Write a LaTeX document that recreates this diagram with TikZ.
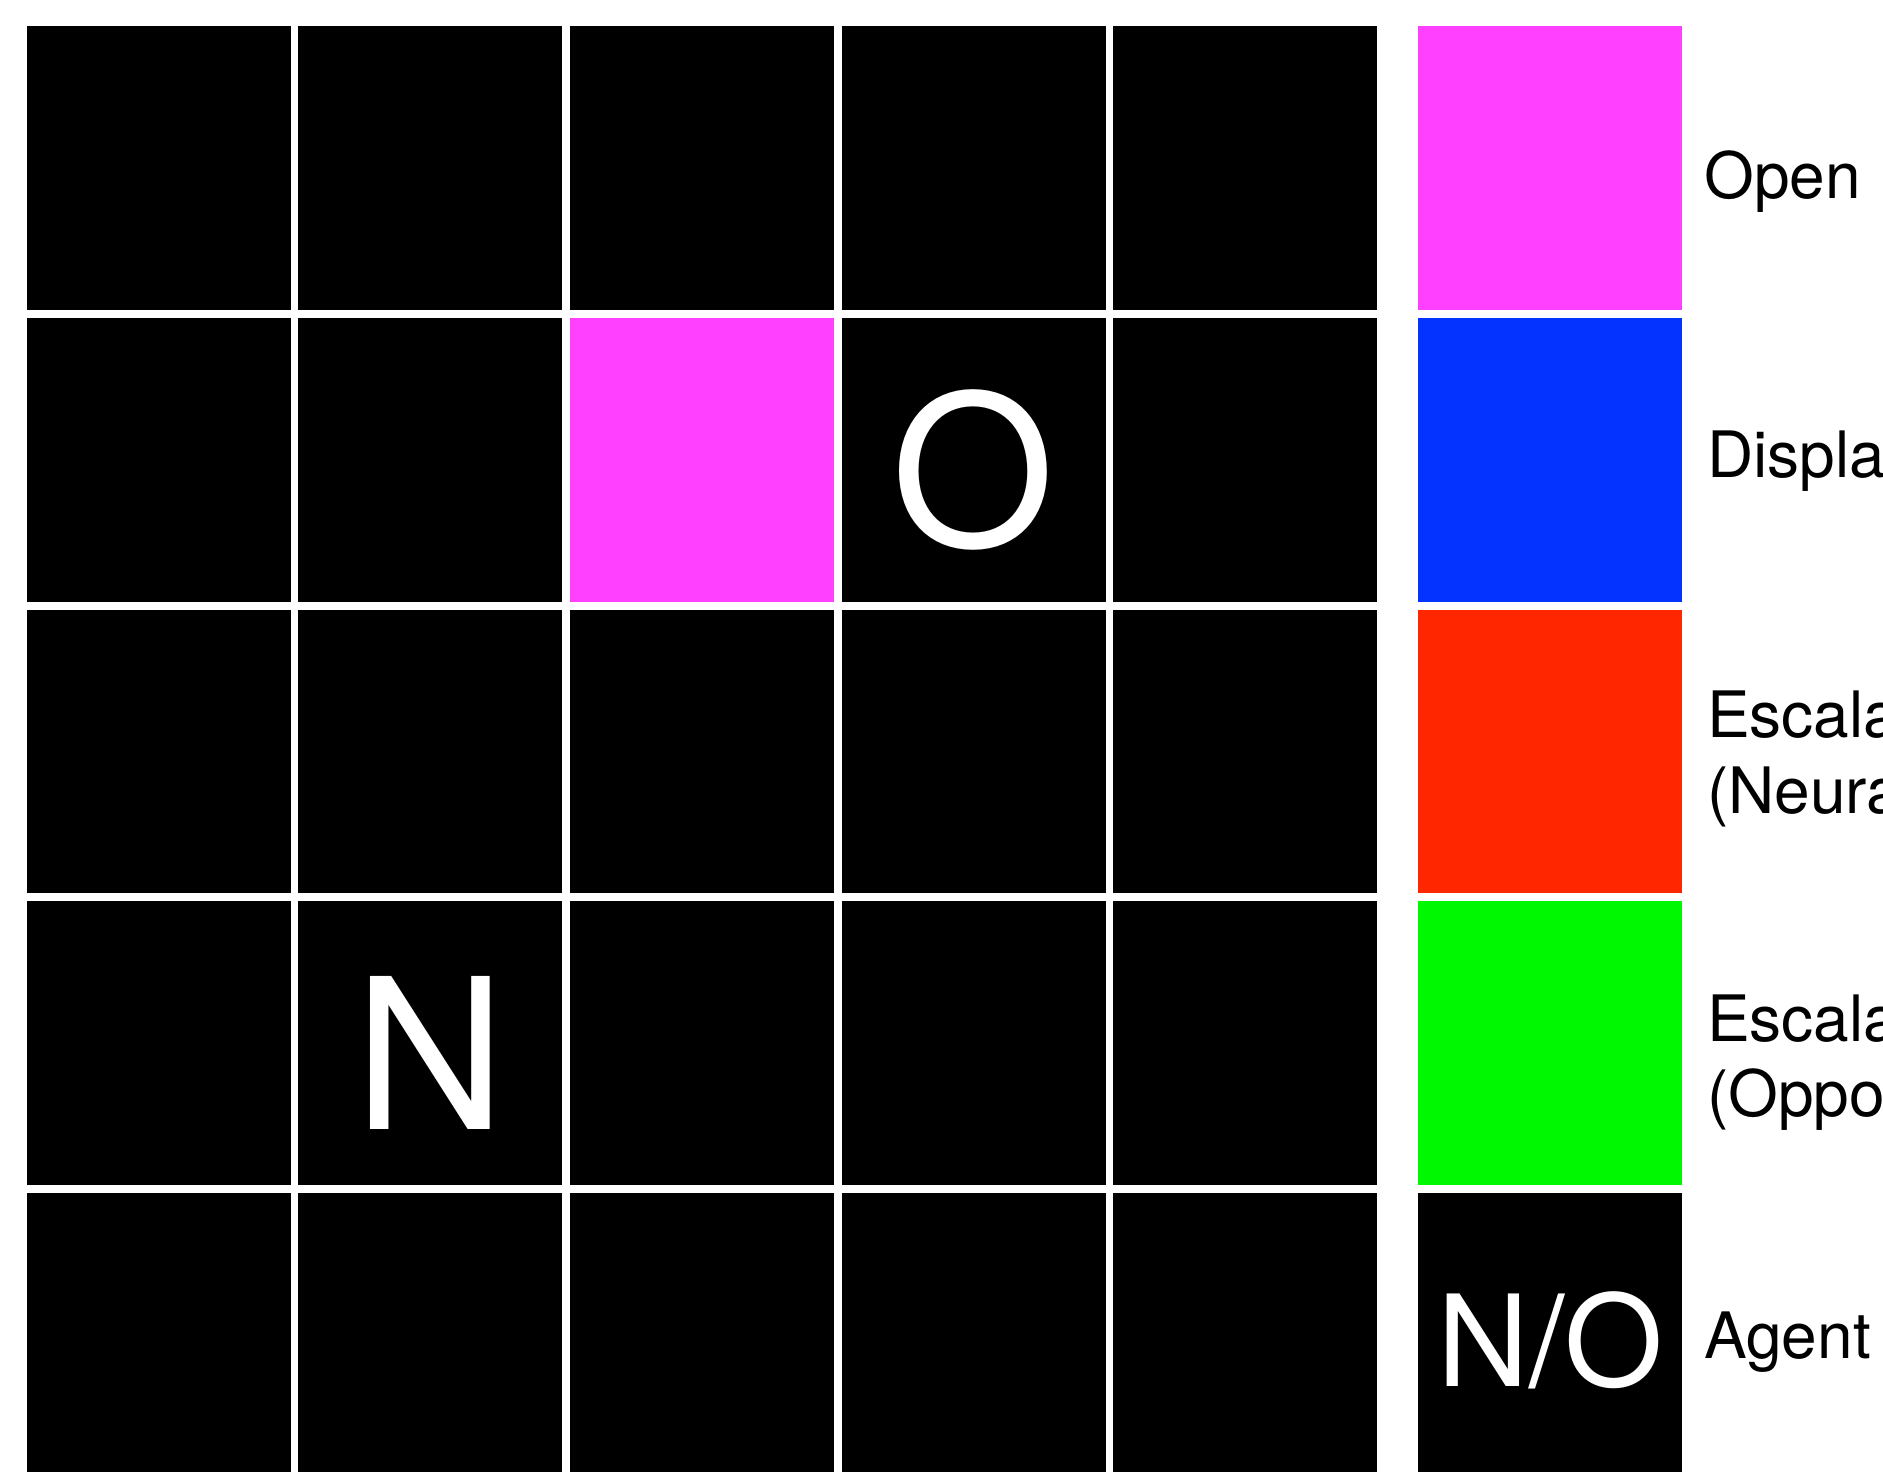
\documentclass[tikz,border=0pt]{standalone}
\usepackage{fontspec}
\setmainfont{TeX Gyre Heros}
\definecolor{cmag}{RGB}{255,64,255}
\definecolor{cblue}{RGB}{4,51,255}
\definecolor{cred}{RGB}{255,38,0}
\definecolor{cgreen}{RGB}{0,249,0}
\begin{document}
\begin{tikzpicture}[x=1pt,y=-1pt,
  cell/.style={rectangle,inner sep=0pt,outer sep=0pt,minimum width=264pt,minimum height=283.5pt,anchor=north west,fill=black},
  bigletter/.style={inner sep=0pt,anchor=base,text=white,font=\fontsize{210}{252}\selectfont},
  midletter/.style={inner sep=0pt,anchor=base,text=white,font=\fontsize{127}{152}\selectfont},
  legtext/.style={inner sep=0pt,anchor=base west,text=black,font=\fontsize{64}{76}\selectfont}]
\useasboundingbox[fill=white] (0,0) rectangle (1883,1472);
% grid
\foreach \i in {0,...,4}{
  \foreach \j in {0,...,4}{
    \node[cell] (c-\j-\i) at ({26.5+271.7*\i},{26.5+291.5*\j}) {};
  }
}
\node[cell,fill=cmag] (c-1-2m) at ({26.5+271.7*2},{26.5+291.5}) {};
% letters
\node[bigletter] (lO) at ({26.5+271.7*3+132},{318+228}) {O};
\node[bigletter] (lN) at ({26.5+271.7*1+132},{26.5+291.5*3+228}) {N};
% legend
\node[cell,fill=cmag]   (k1) at (1418.3,26.5) {};
\node[cell,fill=cblue]  (k2) at (1418.3,318) {};
\node[cell,fill=cred]   (k3) at (1418.3,609.5) {};
\node[cell,fill=cgreen] (k4) at (1418.3,901) {};
\node[cell,fill=black]  (k5) at (1418.3,1192.5) {};
\node[midletter] (lNO) at (1550.5,1386) {N/O};
\node[legtext] (t1) at (1704,198) {Open};
\node[legtext] (t2) at (1707,477) {Displaced};
\node[legtext] (t3a) at (1707,737) {Escalated};
\node[legtext] (t3b) at (1707,813) {(Neural)};
\node[legtext] (t4a) at (1707,1041) {Escalated};
\node[legtext] (t4b) at (1707,1116) {(Opponent)};
\node[legtext] (t5) at (1704,1358) {Agent};
\end{tikzpicture}
\end{document}
